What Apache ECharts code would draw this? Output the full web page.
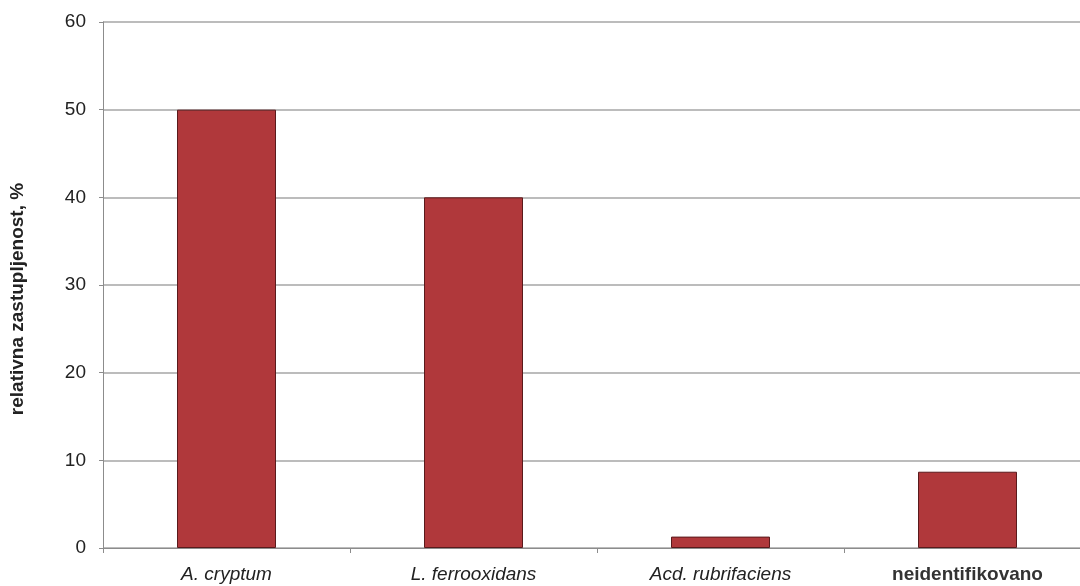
<!DOCTYPE html>
<html>
<head>
<meta charset="utf-8">
<script src="https://cdn.jsdelivr.net/npm/echarts@6/dist/echarts.min.js"></script>
<style>
html,body{margin:0;padding:0;background:#fff;overflow:hidden;}
#c{width:1092px;height:586px;}
</style>
</head>
<body>
<div id="c"></div>
<script>
const categories = ['A. cryptum', 'L. ferrooxidans', 'Acd. rubrifaciens', 'neidentifikovano'];
const labelStyles = ['i', 'i', 'i', 'b'];
const values = [50, 40, 1.3, 8.7];
const yTicks = [0, 10, 20, 30, 40, 50, 60];
const yAxisName = 'relativna zastupljenost, %';

const chart = echarts.init(document.getElementById('c'), null, {renderer: 'canvas'});
chart.setOption({
  animation: false,
  backgroundColor: '#ffffff',
  grid: {left: 101, top: 22, width: 990, height: 526, containLabel: false},
  xAxis: {
    type: 'category',
    data: categories,
    axisLine: {lineStyle: {color: '#8c8c8c', width: 1}},
    axisTick: {show: true, length: 5, lineStyle: {color: '#8c8c8c'}},
    axisLabel: {
      margin: 17,
      formatter: function (v, i) { return '{' + labelStyles[i] + '|' + v + '}'; },
      rich: {
        i: {fontFamily: 'Liberation Sans, Arial, sans-serif', fontSize: 19, fontStyle: 'italic', color: '#222'},
        b: {fontFamily: 'Liberation Sans, Arial, sans-serif', fontSize: 19, fontWeight: 'bold', color: '#333'}
      }
    }
  },
  yAxis: {
    type: 'value',
    min: yTicks[0],
    max: yTicks[yTicks.length - 1],
    interval: 10,
    name: yAxisName,
    nameLocation: 'middle',
    nameGap: 76,
    nameRotate: 90,
    nameTextStyle: {fontFamily: 'Liberation Sans, Arial, sans-serif', fontSize: 19, fontWeight: 'bold', color: '#222', padding: [0, 28, 0, 0]},
    axisLine: {show: true, lineStyle: {color: '#8c8c8c', width: 1}},
    axisTick: {show: true, length: 4, lineStyle: {color: '#8c8c8c'}},
    axisLabel: {fontFamily: 'Liberation Sans, Arial, sans-serif', fontSize: 19, color: '#222', margin: 17},
    splitLine: {show: true, lineStyle: {color: '#a6a6a6', width: 1.5}}
  },
  series: [{
    type: 'bar',
    data: values,
    barWidth: 99,
    itemStyle: {color: '#b0383b', borderColor: '#5a1a1c', borderWidth: 1}
  }]
});
</script>
</body>
</html>
